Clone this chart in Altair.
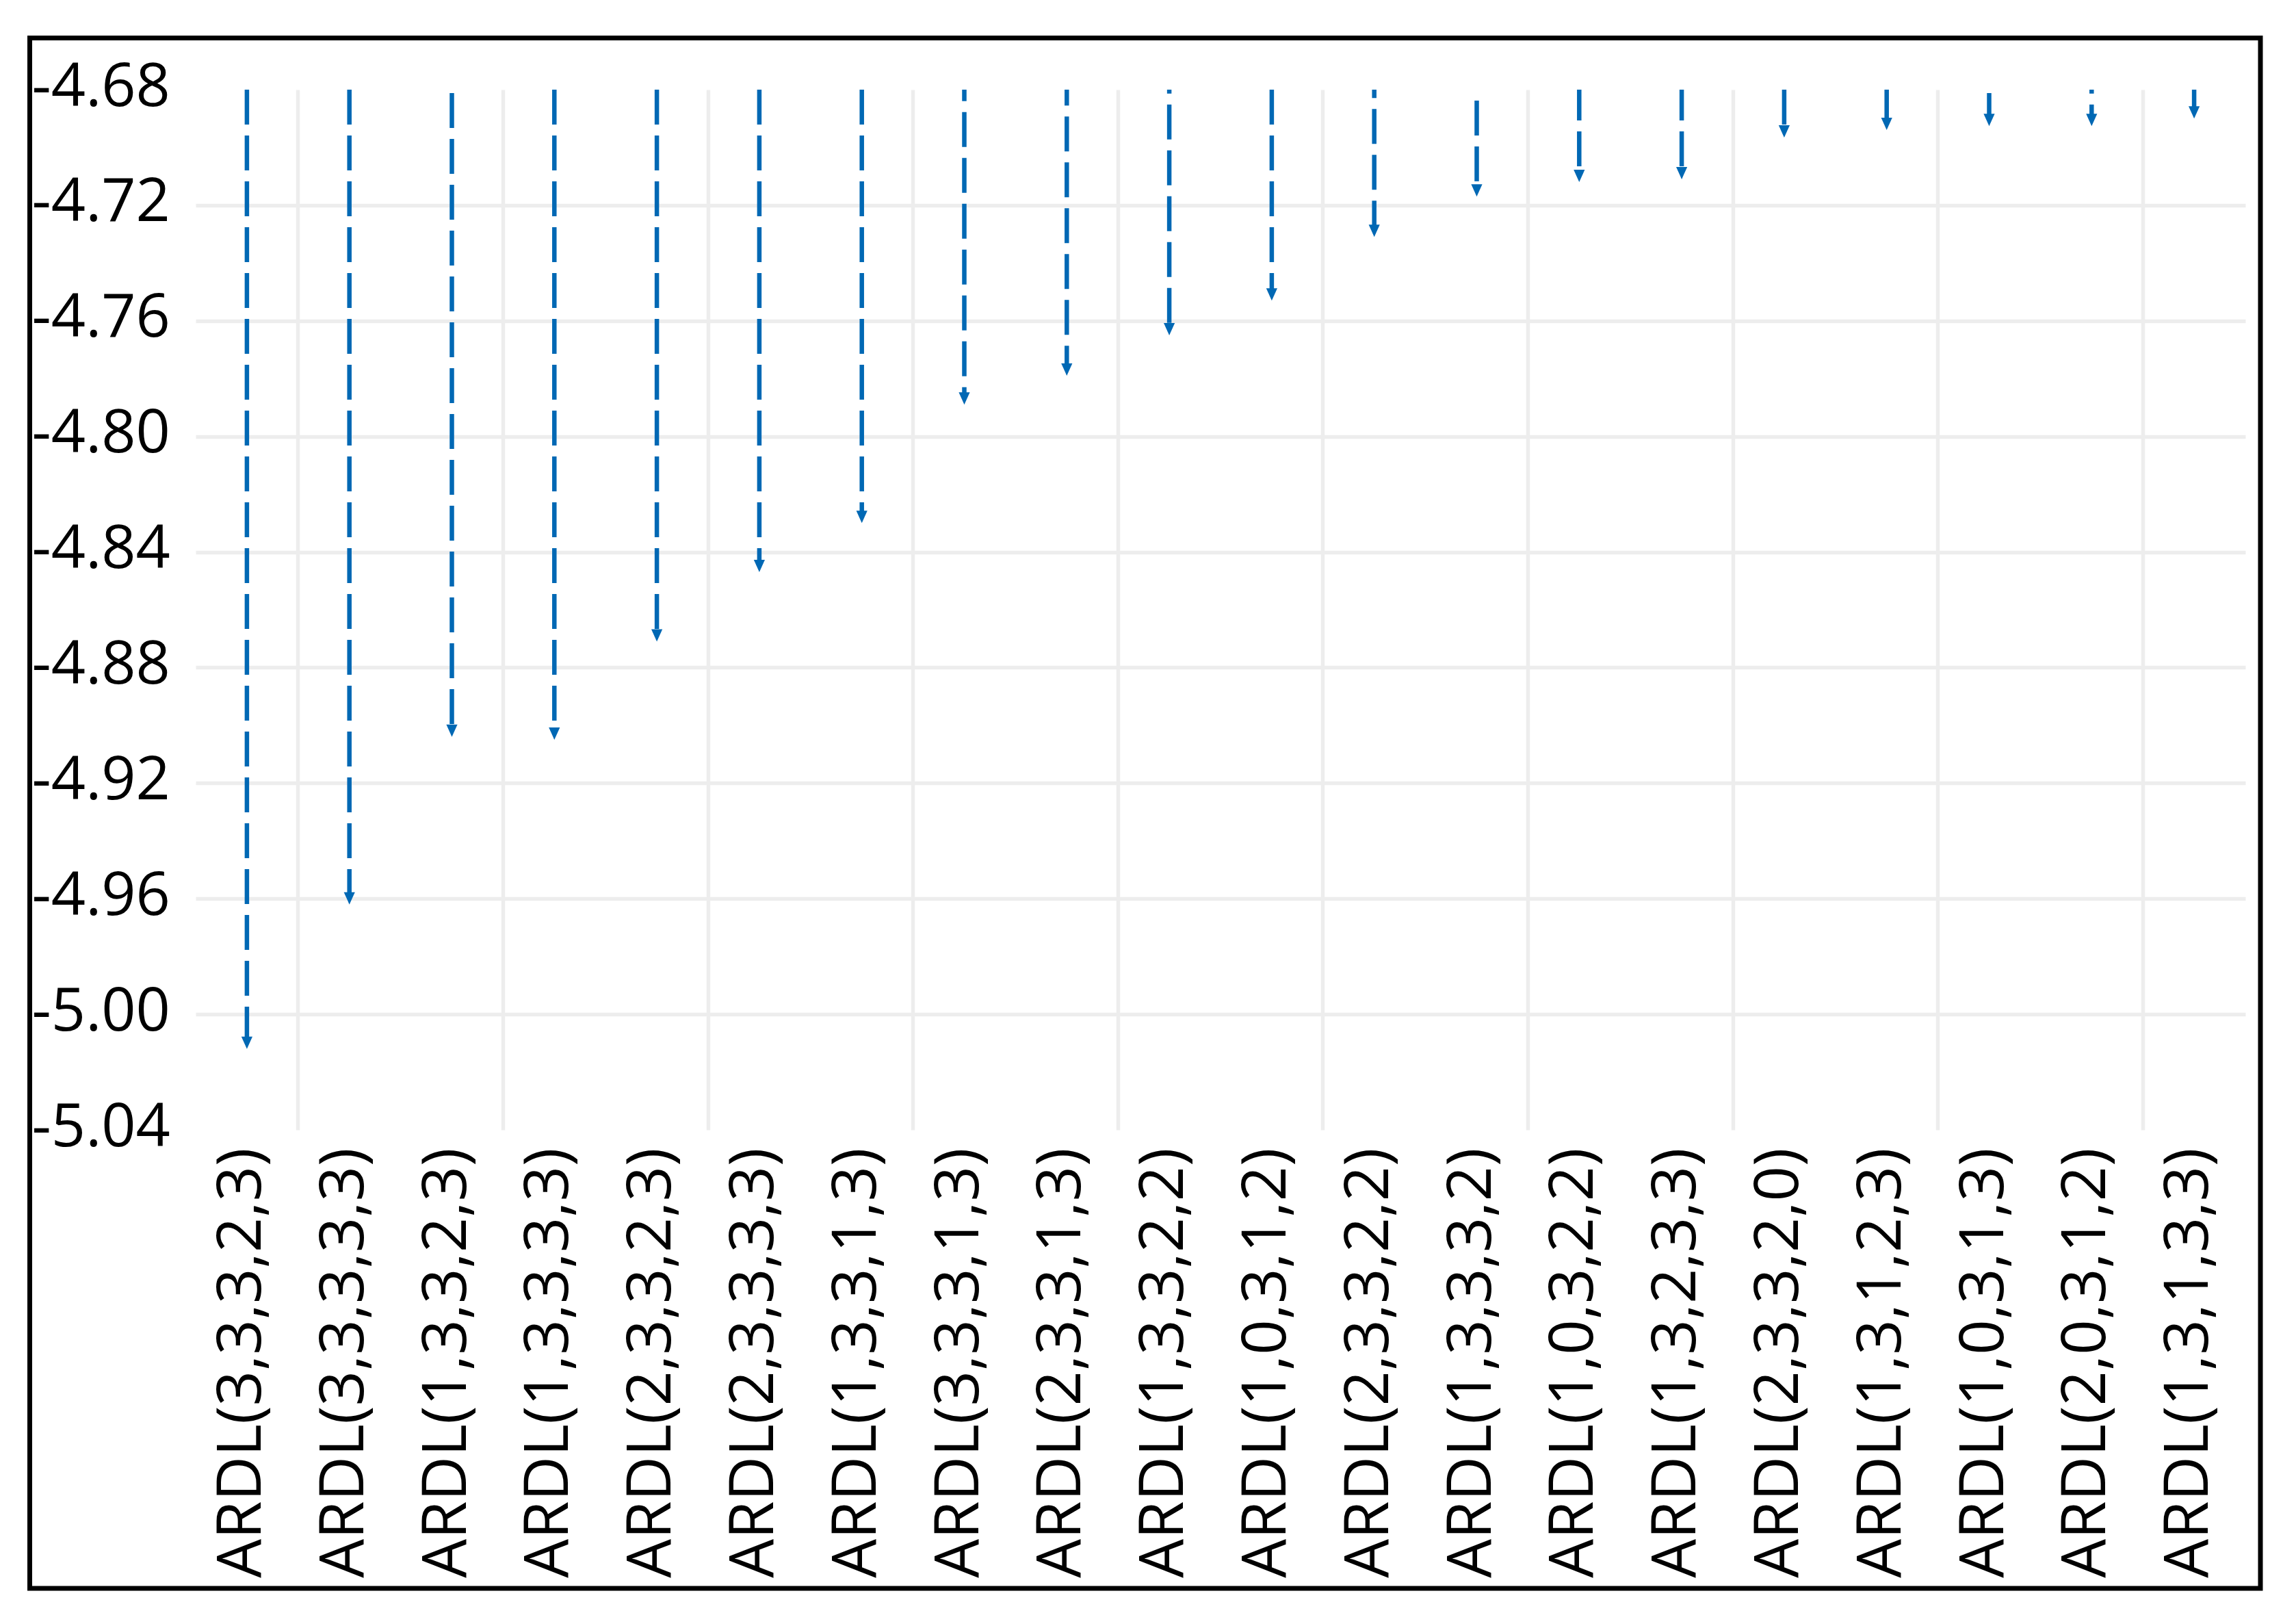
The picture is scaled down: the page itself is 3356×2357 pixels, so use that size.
import altair as alt
import pandas as pd

# ---- data ----
models = [
    "ARDL(3,3,3,2,3)", "ARDL(3,3,3,3,3)", "ARDL(1,3,3,2,3)", "ARDL(1,3,3,3,3)",
    "ARDL(2,3,3,2,3)", "ARDL(2,3,3,3,3)", "ARDL(1,3,3,1,3)", "ARDL(3,3,3,1,3)",
    "ARDL(2,3,3,1,3)", "ARDL(1,3,3,2,2)", "ARDL(1,0,3,1,2)", "ARDL(2,3,3,2,2)",
    "ARDL(1,3,3,3,2)", "ARDL(1,0,3,2,2)", "ARDL(1,3,2,3,3)", "ARDL(2,3,3,2,0)",
    "ARDL(1,3,1,2,3)", "ARDL(1,0,3,1,3)", "ARDL(2,0,3,1,2)", "ARDL(1,3,1,3,3)",
]
aic = [
    -5.012, -4.962, -4.904, -4.905, -4.871, -4.847, -4.830, -4.789,
    -4.779, -4.765, -4.753, -4.731, -4.717, -4.712, -4.711, -4.6966,
    -4.694, -4.6926, -4.6926, -4.690,
]
# upper end of each dashed drop line (lies above the visible range, clipped)
line_top = [
    -4.68, -4.68, -4.6653, -4.68, -4.68, -4.68, -4.68, -4.6719,
    -4.6734, -4.6693, -4.68, -4.6708, -4.6679, -4.6786, -4.6786, -4.68,
    -4.68, -4.6653, -4.6693, -4.68,
]
y_ticks = [-4.68, -4.72, -4.76, -4.80, -4.84, -4.88, -4.92, -4.96, -5.00, -5.04]
y_grid = y_ticks[1:-1]
x_grid = models[0::2]

df = pd.DataFrame({"model": models, "aic": aic, "top": line_top})

BLUE = "#0068B4"
GRID = "#EDEDED"
FONT = "Open Sans"

x_scale = alt.Scale(paddingInner=0, paddingOuter=0)
y_scale = alt.Scale(domain=[-5.04, -4.68], nice=False, zero=False)

base = alt.Chart(df)

rules = base.mark_rule(
    color=BLUE, strokeWidth=6.5, strokeDash=[51, 16], strokeCap="butt",
    clip=True, y2Offset=-12,
).encode(
    x=alt.X("model:N", sort=None, scale=x_scale, title=None,
            axis=alt.Axis(labelAngle=-90, labelFontSize=90, labelFont=FONT,
                          labelColor="black", labelPadding=26, labelOffset=-7,
                          labelOverlap=False, labelLimit=0,
                          grid=False, ticks=False, domain=False)),
    y=alt.Y("top:Q", scale=y_scale, title=None,
            axis=alt.Axis(values=y_ticks,
                          labelExpr="(datum.value < 0 ? '-' : '') + format(abs(datum.value), '.2f')",
                          labelFontSize=88, labelLimit=0,
                          labelFont=FONT, labelColor="black", labelAlign="left",
                          labelPadding=240, labelOffset=-3, labelOverlap=False,
                          grid=False, ticks=False, domain=False)),
    y2="aic:Q",
)

arrows = base.mark_point(
    shape="M-0.9,-1L0.9,-1L0,1Z", size=324, filled=True, color=BLUE,
    opacity=1, strokeWidth=0, yOffset=-9,
).encode(
    x=alt.X("model:N", sort=None, scale=x_scale, title=None,
            axis=alt.Axis(values=x_grid, bandPosition=1, grid=True,
                          gridColor=GRID, gridWidth=5.5, labels=False,
                          ticks=False, domain=False)),
    y=alt.Y("aic:Q", scale=y_scale, title=None,
            axis=alt.Axis(values=y_grid, grid=True, gridColor=GRID,
                          gridWidth=5.5, labels=False, ticks=False,
                          domain=False)),
)

frame = alt.Chart(alt.Data(values=[{}])).mark_rect(
    fillOpacity=0, stroke="black", strokeWidth=7, clip=False,
).encode(
    x=alt.value(-242.5), x2=alt.value(3018),
    y=alt.value(-75.5), y2=alt.value(2190),
)

chart = alt.layer(rules, arrows, frame).resolve_axis(
    x="independent", y="independent"
).properties(
    width=2996,
    height=1520,
    padding={"left": 278, "top": 123, "right": 60, "bottom": 700},
    autosize=alt.AutoSizeParams(type="none"),
    background="white",
).configure_view(strokeWidth=0)

chart.save("out.html", embed_options={"renderer": "svg", "actions": False})
